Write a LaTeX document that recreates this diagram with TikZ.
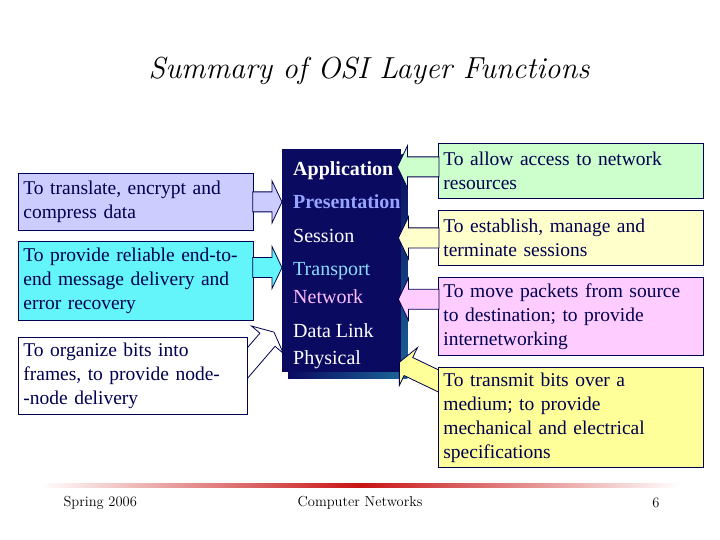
\documentclass[tikz,border=0pt]{standalone}
\usepackage{fontspec}
\newfontfamily\tnr{Liberation Serif}
\usetikzlibrary{calc}
\definecolor{navy}{RGB}{10,10,96}
\definecolor{shadowteal}{RGB}{26,100,150}
\definecolor{inkblue}{RGB}{0,0,80}
\definecolor{presblue}{RGB}{150,165,255}
\definecolor{transcyan}{RGB}{140,220,255}
\definecolor{netpink}{RGB}{255,190,255}
\definecolor{lavbox}{RGB}{204,204,255}
\definecolor{cyanbox}{RGB}{100,245,250}
\definecolor{greenbox}{RGB}{204,255,204}
\definecolor{paleyellow}{RGB}{255,255,204}
\definecolor{pinkbox}{RGB}{255,204,255}
\definecolor{yellowbox}{RGB}{255,255,153}
\definecolor{footred}{RGB}{200,20,20}
\newcommand\blockarrow[3]{%
  \coordinate (hb) at ($(#2)!10pt!(#1)$);
  \draw[arrowline, fill=#3] ($(#1)!10pt!90:(#2)$) -- ($(hb)!10pt!90:(#2)$) -- ($(hb)!21pt!90:(#2)$) -- (#2)
    -- ($(hb)!21pt!-90:(#2)$) -- ($(hb)!10pt!-90:(#2)$) -- ($(#1)!10pt!-90:(#2)$) -- cycle;}
\begin{document}
\begin{tikzpicture}[x=1pt, y=-1pt,
    fbox/.style={draw=inkblue, line width=0.8pt, anchor=north west, text=inkblue, align=left,
      inner xsep=5pt, inner ysep=0pt, font=\tnr\fontsize{19.5}{24}\selectfont},
    lay/.style={anchor=base west, inner sep=0pt, font=\tnr\fontsize{20}{22}\selectfont},
    arrowline/.style={draw=inkblue, line width=0.8pt, line join=miter},
    foot/.style={font=\fontsize{14.5}{16}\selectfont}]
\useasboundingbox (0,0) rectangle (720,540);
\node[font=\fontsize{30.4}{34}\selectfont\itshape] (title) at (369,71) {Summary of OSI Layer Functions};

\node[fill=navy, minimum width=119, minimum height=223, anchor=north west, inner sep=0pt] (osi) at (282,149) {};
\shade[top color=navy, bottom color=shadowteal] ($(osi.north east)+(0,6)$) rectangle ($(osi.south east)+(6,6)$);
\shade[left color=navy, right color=shadowteal] ($(osi.south west)+(6,0)$) rectangle ($(osi.south east)+(0,6)$);
\foreach \nm/\dy/\col/\txt in {lApp/27/white/\textbf{Application}, lPres/60/presblue/\textbf{Presentation},
    lSess/93/white/Session, lTrans/126/transcyan/Transport, lNet/154/netpink/Network,
    lLink/188/white/Data Link, lPhys/215/white/Physical}
  \node[lay, text=\col] (\nm) at ($(osi.north west)+(11,\dy)$) {\txt};

\node[fbox, fill=lavbox, text width=225, minimum height=57] (fPres) at (18,173)
  {To translate, encrypt and\\compress data};
\node[fbox, fill=cyanbox, text width=225, minimum height=79] (fRel) at (18,241)
  {To provide reliable end-to-\\end message delivery and\\error recovery};
\node[fbox, fill=white, text width=219, minimum height=77] (fOrg) at (18,337)
  {To organize bits into\\frames, to provide node-\\-node delivery};
\node[fbox, fill=greenbox, text width=255, minimum height=55] (fApp) at (438,143)
  {To allow access to network\\resources};
\node[fbox, fill=paleyellow, text width=255, minimum height=55] (fSess) at (438,210)
  {To establish, manage and\\terminate sessions};
\node[fbox, fill=pinkbox, text width=255, minimum height=78] (fNet) at (438,277)
  {To move packets from source\\to destination; to provide\\internetworking};
\node[fbox, fill=yellowbox, text width=255, minimum height=100] (fPhys) at (438,367)
  {To transmit bits over a\\medium; to provide\\mechanical and electrical\\specifications};

\coordinate (t1) at (osi.west |- fPres.east);
\coordinate (s1) at ($(fPres.east)+(-1,0)$);
\coordinate (t2) at ($(osi.west |- lTrans)+(0,-3)$);
\coordinate (s2) at ($(fRel.east |- t2)+(-1,0)$);
\coordinate (t3) at ($(lLink.west)+(-19,2)$);
\coordinate (s3) at ($(fOrg.east)+(-8,-4)$);
\coordinate (t4) at ($(osi.east |- fApp.west)+(-4,-4)$);
\coordinate (s4) at ($(fApp.west |- t4)+(1,0)$);
\coordinate (t5) at ($(osi.east |- fSess.west)+(-3,0)$);
\coordinate (s5) at ($(fSess.west |- t5)+(1,0)$);
\coordinate (t6) at ($(osi.east |- lNet)+(-3,3)$);
\coordinate (s6) at ($(fNet.west |- t6)+(1,0)$);
\coordinate (t7) at ($(osi.east |- lPhys)+(-2,3)$);
\coordinate (s7) at ($(fPhys.north west)+(11,19)$);
\blockarrow{s1}{t1}{lavbox}
\blockarrow{s2}{t2}{cyanbox}
\blockarrow{s3}{t3}{white}
\blockarrow{s4}{t4}{greenbox}
\blockarrow{s5}{t5}{paleyellow}
\blockarrow{s6}{t6}{pinkbox}
\blockarrow{s7}{t7}{yellowbox}
\node[fbox, fill=white, text width=219, minimum height=77] at (fOrg.north west) {To organize bits into\\frames, to provide node-\\-node delivery};
\node[fbox, fill=yellowbox, text width=255, minimum height=100] at (fPhys.north west)
  {To transmit bits over a\\medium; to provide\\mechanical and electrical\\specifications};

\shade[left color=white, right color=footred] (40,483) rectangle (360,487);
\shade[left color=footred, right color=white] (360,483) rectangle (680,487);
\node[foot, anchor=west] (spring) at (60,503) {Spring 2006};
\node[foot] (course) at (360,503) {Computer Networks};
\node[foot] (page) at (656,503) {6};
\end{tikzpicture}
\end{document}
